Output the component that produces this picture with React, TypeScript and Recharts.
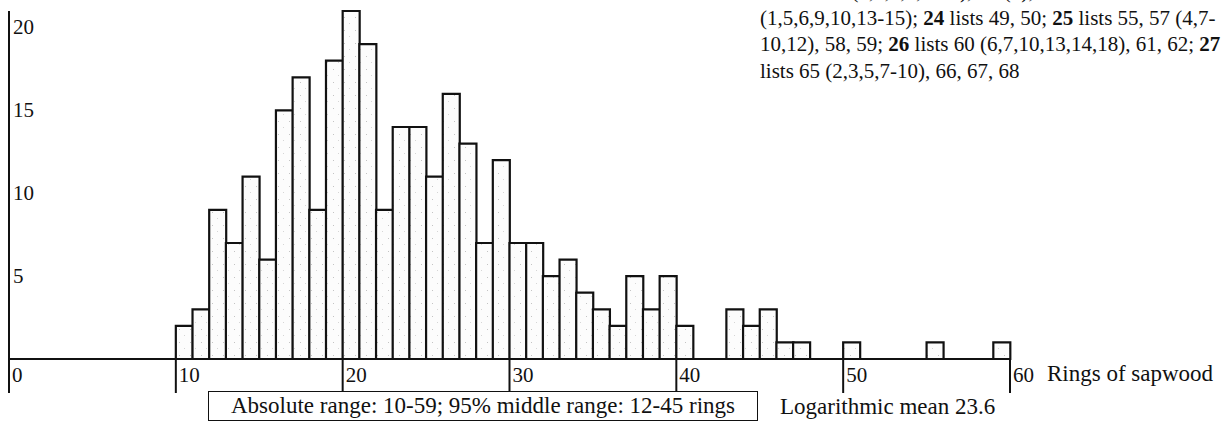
import React from 'react'
import { BarChart, Bar, XAxis, YAxis } from 'recharts'

// one bin per ring count, 10..59
const rings = [
  10, 11, 12, 13, 14, 15, 16, 17, 18, 19,
  20, 21, 22, 23, 24, 25, 26, 27, 28, 29,
  30, 31, 32, 33, 34, 35, 36, 37, 38, 39,
  40, 41, 42, 43, 44, 45, 46, 47, 48, 49,
  50, 51, 52, 53, 54, 55, 56, 57, 58, 59,
]
const counts = [
  2, 3, 9, 7, 11, 6, 15, 17, 9, 18,
  21, 19, 9, 14, 14, 11, 16, 13, 7, 12,
  7, 7, 5, 6, 4, 3, 2, 5, 3, 5,
  2, 0, 0, 3, 2, 3, 1, 1, 0, 0,
  1, 0, 0, 0, 0, 1, 0, 0, 0, 1,
]
const xTicks = [0, 10, 20, 30, 40, 50, 60]
const yTicks = [5, 10, 15, 20]

const rangeNote = 'Absolute range: 10-59; 95% middle range: 12-45 rings'
const meanNote = 'Logarithmic mean 23.6'
const axisTitle = 'Rings of sapwood'

const data = rings.map((r, i) => ({ ring: r + 0.5, count: counts[i] }))

const serif = '"Liberation Serif", "Times New Roman", serif'
const ink = '#111'

const XTick = (props: any) => {
  const { x, y, payload } = props
  return (
    <g>
      <line x1={x} y1={y} x2={x} y2={y + 34} stroke={ink} strokeWidth={2} />
      <text x={x + 3} y={y + 16} dy="0.355em" fontSize={21} fontFamily={serif} fill={ink}>
        {payload.value}
      </text>
    </g>
  )
}

const YTick = (props: any) => {
  const { x, y, payload } = props
  return (
    <text x={x + 4} y={y - 1} dy="0.355em" fontSize={21} fontFamily={serif} fill={ink}>
      {payload.value}
    </text>
  )
}

export default function App() {
  return (
    <div style={{ position: 'absolute', left: 0, top: 0, width: 1225, height: 426, overflow: 'hidden', fontFamily: serif, color: ink, background: '#fff' }}>
      <BarChart width={1225} height={426} data={data} margin={{ top: 11, right: 215, left: 9, bottom: 0 }} barCategoryGap={0} barGap={0}>
        <defs>
          <pattern id="stipple" width={11} height={13} patternUnits="userSpaceOnUse">
            <rect width={11} height={13} fill="#fcfcfc" />
            <rect x={3} y={4} width={1} height={1} fill="#c4c4c4" />
            <rect x={8} y={10} width={1} height={1} fill="#d6d6d6" />
          </pattern>
        </defs>
        <XAxis
          type="number"
          dataKey="ring"
          domain={[0, 60]}
          ticks={xTicks}
          interval={0}
          height={67}
          tickSize={0}
          tickMargin={0}
          axisLine={{ stroke: ink, strokeWidth: 2 }}
          tickLine={false}
          tick={<XTick />}
        />
        <YAxis
          type="number"
          domain={[0, 21]}
          ticks={yTicks}
          mirror
          tickSize={0}
          tickMargin={0}
          axisLine={{ stroke: ink, strokeWidth: 2 }}
          tickLine={false}
          tick={<YTick />}
        />
        <Bar dataKey="count" fill="url(#stipple)" stroke={ink} strokeWidth={2.2} isAnimationActive={false} />
      </BarChart>

      <div style={{ position: 'absolute', left: 760, top: -22, width: 470, fontSize: 21, lineHeight: '26.7px', whiteSpace: 'nowrap' }}>
        <b>22</b> lists 37 (1,3,4,7,9-12), 44 (2); <b>23</b> lists 47<br />
        (1,5,6,9,10,13-15); <b>24</b> lists 49, 50; <b>25</b> lists 55, 57 (4,7-<br />
        10,12), 58, 59; <b>26</b> lists 60 (6,7,10,13,14,18), 61, 62; <b>27</b><br />
        lists 65 (2,3,5,7-10), 66, 67, 68
      </div>

      <div style={{ position: 'absolute', left: 1047, top: 361, fontSize: 23, lineHeight: '26px', whiteSpace: 'nowrap' }}>
        {axisTitle}
      </div>

      <div style={{ position: 'absolute', left: 208, top: 391, width: 548, height: 28, border: `1.5px solid ${ink}`, background: '#fff', fontSize: 23, lineHeight: '28px', textAlign: 'center', whiteSpace: 'nowrap' }}>
        {rangeNote}
      </div>

      <div style={{ position: 'absolute', left: 780, top: 393, fontSize: 23, lineHeight: '28px', whiteSpace: 'nowrap' }}>
        {meanNote}
      </div>
    </div>
  )
}
